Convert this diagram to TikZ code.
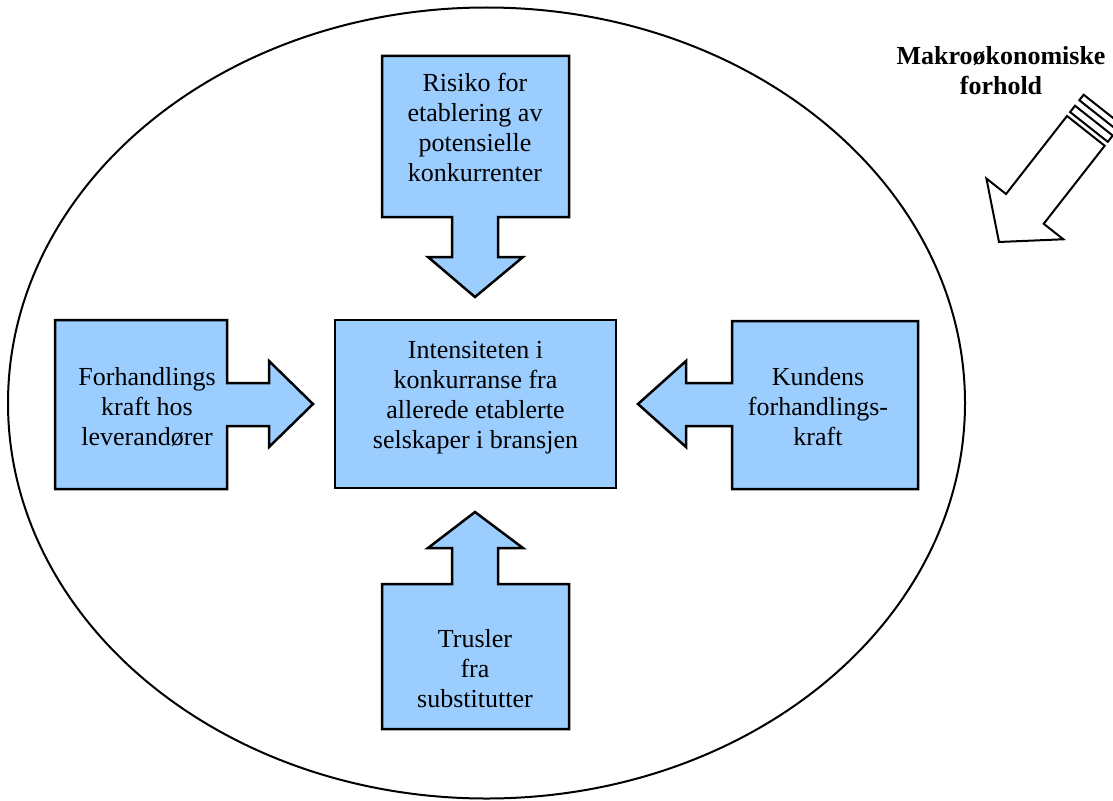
\documentclass[tikz,border=0pt]{standalone}
\usepackage{fontspec}
\setmainfont{Liberation Serif}
\definecolor{boxblue}{RGB}{155,205,255}
\begin{document}
\begin{tikzpicture}[x=1pt,y=-1pt,
  blockshape/.style={draw=black, line width=2.5pt, fill=boxblue, line join=miter},
  boxtext/.style={font=\fontsize{26}{30}\selectfont, align=center, inner sep=0pt},
  outline/.style={draw=black, line width=2pt, fill=white, line join=miter}]
\useasboundingbox (0,0) rectangle (1113,800);
\clip (0,0) rectangle (1113,800);

% the market boundary
\draw[line width=2pt] (486.5,403) ellipse [x radius=478.5, y radius=395.5];

% top: threat of new entrants, pointing down
\draw[blockshape] (382,56) -- (569,56) -- (569,217) -- (498,217) -- (498,257) -- (523,257)
  -- (475,297) -- (428,257) -- (452,257) -- (452,217) -- (382,217) -- cycle;
% left: supplier power, pointing right
\draw[blockshape] (55,320) -- (227,320) -- (227,383) -- (269,383) -- (269,361) -- (313,404)
  -- (269,447) -- (269,426) -- (227,426) -- (227,489) -- (55,489) -- cycle;
% right: buyer power, pointing left
\draw[blockshape] (918,321) -- (918,489) -- (732,489) -- (732,426) -- (686,426) -- (686,447)
  -- (638,404) -- (686,361) -- (686,383) -- (732,383) -- (732,321) -- cycle;
% bottom: substitutes, pointing up
\draw[blockshape] (382,584) -- (452,584) -- (452,548) -- (428,548) -- (475,512) -- (523,548)
  -- (498,548) -- (498,584) -- (569,584) -- (569,729) -- (382,729) -- cycle;
% centre: rivalry
\draw[blockshape] (335,320) rectangle (616,488);

\node[boxtext] (entrants) at (475,127) {Risiko for\\etablering av\\potensielle\\konkurrenter};
\node[boxtext] (rivalry) at (475.5,398) {Intensiteten i\\konkurranse fra\\allerede etablerte\\selskaper i bransjen};
\node[boxtext] (suppliers) at (147,407) {Forhandlings\\kraft hos\\leverandører};
\node[boxtext] (buyers) at (818,407) {Kundens\\forhandlings-\\kraft};
\node[boxtext] (substitutes) at (475,669) {Trusler\\fra\\substitutter};

% macro-economic conditions: striped block arrow pointing down-left
\node[boxtext, font=\fontsize{26}{30}\selectfont\bfseries] (macro) at (1001,71) {Makroøkonomiske\\forhold};
\begin{scope}[shift={(1067pt,-116pt)}, x={(-0.616pt,-0.788pt)}, y={(0.785pt,-0.62pt)}]
  \draw[outline] (-20,0) -- (-27,0) -- (-27,48) -- (-20,48) -- cycle;
  \draw[outline] (-5,0) -- (-13,0) -- (-13,48) -- (-5,48) -- cycle;
  \draw[outline] (0,0) -- (99,0) -- (99,-25) -- (141,24) -- (99,73) -- (99,48) -- (0,48) -- cycle;
\end{scope}
\end{tikzpicture}
\end{document}
